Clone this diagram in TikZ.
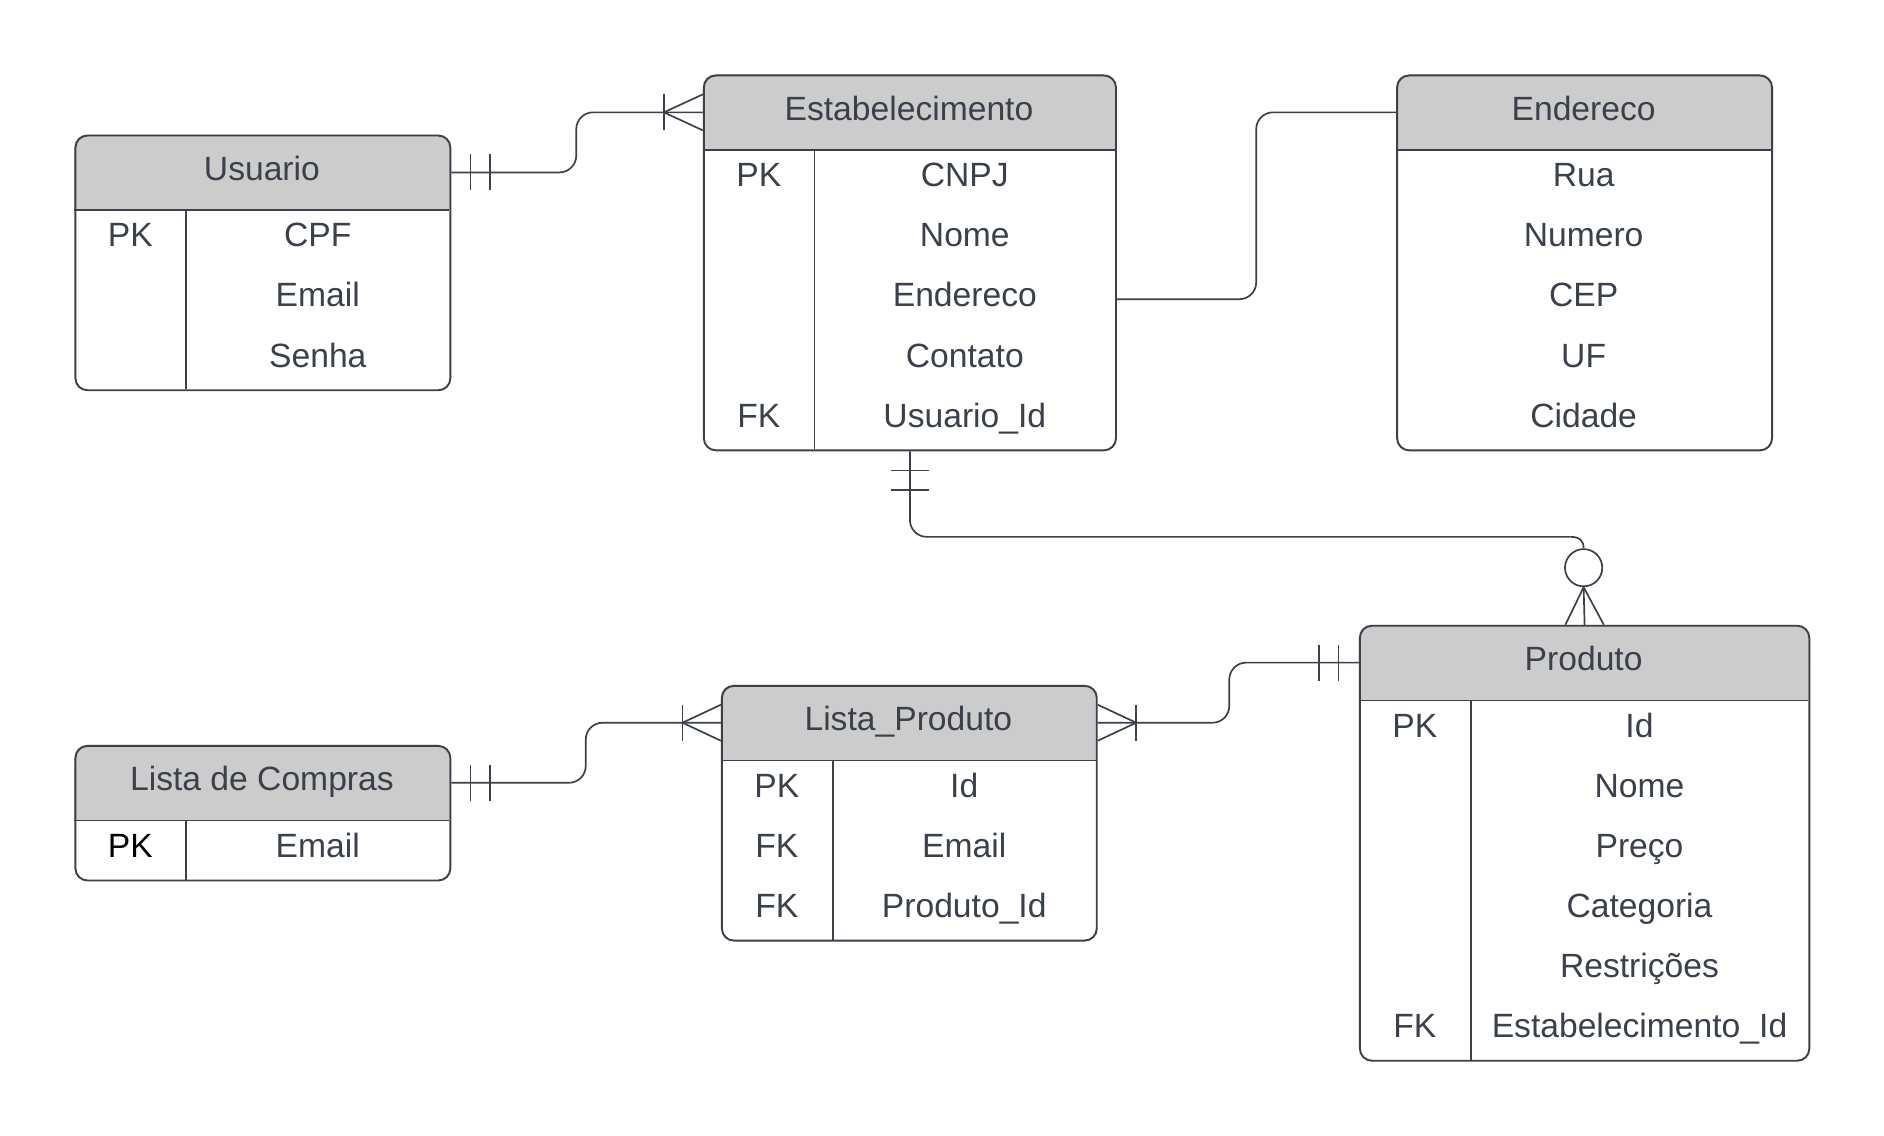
\documentclass[tikz,border=0pt]{standalone}
\usepackage{fontspec}
\setmainfont{Liberation Sans}
\usetikzlibrary{calc}

\definecolor{ink}{HTML}{3A414A}
\definecolor{headgrey}{HTML}{CCCCCC}

\tikzset{
  tablebox/.style={draw=ink, line width=1.6pt, rounded corners=10pt, inner sep=0pt, anchor=north west},
  rulestroke/.style={draw=ink, line width=1.4pt},
  conn/.style={draw=ink, line width=1.4pt, rounded corners=14pt},
  erdmark/.style={draw=ink, line width=1.4pt},
  celltext/.style={text=ink, font=\fontsize{28}{34}\selectfont, inner sep=0pt, anchor=base},
}

% #1 name, #2 left, #3 top, #4 right, #5 number of rows, #6 title
\newcommand\ertable[6]{%
  \pgfmathsetmacro\tblheight{62+50*#5}%
  \fill[headgrey, rounded corners=10pt] (#2,#3) rectangle (#4,#3+40);
  \fill[headgrey] (#2,#3+20) rectangle (#4,#3+63);
  \node[tablebox, minimum width={(#4-#2)*1pt}, minimum height=\tblheight pt] (#1) at (#2,#3) {};
  \draw[rulestroke] (#2,#3+63) -- (#4,#3+63);
  \node[celltext] (#1-title) at ({(#2+#4)/2},#3+38) {#6};
}
% key column divider: #1 left, #2 header bottom, #3 bottom
\newcommand\keydivider[3]{\draw[rulestroke] (#1+93,#2) -- (#1+93,#3);}

\begin{document}
\begin{tikzpicture}[x=1pt,y=-1pt]
  \fill[white] (0,0) rectangle (1568,945);
  \useasboundingbox (0,0) rectangle (1568,945);

  % ---------- Usuario ----------
  \ertable{usr}{62}{112}{374}{3}{Usuario}
  \keydivider{62}{175}{324}
  \node[celltext] (usr-k1) at (108.5,205.5) {PK};
  \node[celltext] (usr-f1) at (264.5,205.5) {CPF};
  \node[celltext] (usr-f2) at (264.5,255.5) {Email};
  \node[celltext] (usr-f3) at (264.5,305.5) {Senha};

  % ---------- Estabelecimento ----------
  \ertable{est}{585}{62}{928}{5}{Estabelecimento}
  \keydivider{585}{125}{374}
  \node[celltext] (est-k1) at (631.5,155.5) {PK};
  \node[celltext] (est-k5) at (631.5,355.5) {FK};
  \node[celltext] (est-f1) at (803,155.5) {CNPJ};
  \node[celltext] (est-f2) at (803,205.5) {Nome};
  \node[celltext] (est-f3) at (803,255.5) {Endereco};
  \node[celltext] (est-f4) at (803,305.5) {Contato};
  \node[celltext] (est-f5) at (803,355.5) {Usuario\_Id};

  % ---------- Endereco ----------
  \ertable{end}{1162}{62}{1474}{5}{Endereco}
  \node[celltext] (end-f1) at (1318,155.5) {Rua};
  \node[celltext] (end-f2) at (1318,205.5) {Numero};
  \node[celltext] (end-f3) at (1318,255.5) {CEP};
  \node[celltext] (end-f4) at (1318,305.5) {UF};
  \node[celltext] (end-f5) at (1318,355.5) {Cidade};

  % ---------- Produto ----------
  \ertable{prd}{1131}{520}{1505}{6}{Produto}
  \keydivider{1131}{583}{882}
  \node[celltext] (prd-k1) at (1177.5,613.5) {PK};
  \node[celltext] (prd-k6) at (1177.5,863.5) {FK};
  \node[celltext] (prd-f1) at (1364.5,613.5) {Id};
  \node[celltext] (prd-f2) at (1364.5,663.5) {Nome};
  \node[celltext] (prd-f3) at (1364.5,713.5) {Preço};
  \node[celltext] (prd-f4) at (1364.5,763.5) {Categoria};
  \node[celltext] (prd-f5) at (1364.5,813.5) {Restrições};
  \node[celltext] (prd-f6) at (1364.5,863.5) {Estabelecimento\_Id};

  % ---------- Lista_Produto ----------
  \ertable{lp}{600}{570}{912}{3}{Lista\_Produto}
  \keydivider{600}{633}{782}
  \node[celltext] (lp-k1) at (646.5,663.5) {PK};
  \node[celltext] (lp-k2) at (646.5,713.5) {FK};
  \node[celltext] (lp-k3) at (646.5,763.5) {FK};
  \node[celltext] (lp-f1) at (802.5,663.5) {Id};
  \node[celltext] (lp-f2) at (802.5,713.5) {Email};
  \node[celltext] (lp-f3) at (802.5,763.5) {Produto\_Id};

  % ---------- Lista de Compras ----------
  \ertable{ldc}{62}{620}{374}{1}{Lista de Compras}
  \keydivider{62}{683}{732}
  \node[celltext, text=black] (ldc-k1) at (108.5,713.5) {PK};
  \node[celltext] (ldc-f1) at (264.5,713.5) {Email};

  % ---------- connection points ----------
  \coordinate (usr-out) at ($(usr.north east)+(0,31.5)$);
  \coordinate (est-in)  at ($(est.north west)+(0,31.5)$);
  \coordinate (est-out) at ($(est.north east)+(0,187)$);
  \coordinate (end-in)  at ($(end.north west)+(0,31.5)$);
  \coordinate (prd-in)  at ($(prd.north west)+(0,31.5)$);
  \coordinate (lp-out)  at ($(lp.north east)+(0,31.5)$);
  \coordinate (lp-in)   at ($(lp.north west)+(0,31.5)$);
  \coordinate (ldc-out) at ($(ldc.north east)+(0,31.5)$);

  % ---------- Usuario (one) -- Estabelecimento (many) ----------
  \draw[conn] (usr-out) -- ($(usr-out)+(104,0)$) |- (est-in);
  \draw[erdmark] ($(usr-out)+(16,-15)$) -- ++(0,30)
                 ($(usr-out)+(32,-15)$) -- ++(0,30);
  \draw[erdmark] ($(est-in)+(-32.5,-15)$) -- ++(0,30);
  \draw[erdmark] ($(est-in)+(0,-15)$) -- ($(est-in)+(-32.5,0)$) -- ($(est-in)+(0,15)$);

  % ---------- Estabelecimento -- Endereco ----------
  \draw[conn] (est-out) -| ($(end-in)+(-116.5,0)$) -- (end-in);

  % ---------- Estabelecimento (one) -- Produto (zero or many) ----------
  \node[draw=ink, line width=1.4pt, circle, minimum size=31pt, inner sep=0pt] (optc) at (1318,472.5) {};
  \coordinate (optc-bend) at ($(optc.north)+(-11,-9.5)$);
  \draw[conn] (est.south) |- (optc-bend);
  \draw[erdmark] (optc-bend) .. controls ($(optc.north)+(-3,-9.5)$) and ($(optc.north)+(0,-6)$) .. (optc.north);
  \draw[erdmark] ($(est.south)+(-15.5,16)$) -- ++(31,0)
                 ($(est.south)+(-15.5,32)$) -- ++(31,0);
  \draw[erdmark] (optc.south) -- (prd.north);
  \draw[erdmark] ($(prd.north)+(-16,0)$) -- (optc.south) -- ($(prd.north)+(16,0)$);

  % ---------- Produto (one) -- Lista_Produto (many) ----------
  \draw[conn] (prd-in) -| ($(lp-out)+(109.5,0)$) -- (lp-out);
  \draw[erdmark] ($(prd-in)+(-33,-15)$) -- ++(0,30)
                 ($(prd-in)+(-17,-15)$) -- ++(0,30);
  \draw[erdmark] ($(lp-out)+(32,-15)$) -- ++(0,30);
  \draw[erdmark] ($(lp-out)+(0,-15)$) -- ($(lp-out)+(32,0)$) -- ($(lp-out)+(0,15)$);

  % ---------- Lista de Compras (one) -- Lista_Produto (many) ----------
  \draw[conn] (ldc-out) -| ($(lp-in)+(-112.5,0)$) -- (lp-in);
  \draw[erdmark] ($(ldc-out)+(16,-15)$) -- ++(0,30)
                 ($(ldc-out)+(32,-15)$) -- ++(0,30);
  \draw[erdmark] ($(lp-in)+(-32,-15)$) -- ++(0,30);
  \draw[erdmark] ($(lp-in)+(0,-15)$) -- ($(lp-in)+(-32,0)$) -- ($(lp-in)+(0,15)$);
\end{tikzpicture}
\end{document}
